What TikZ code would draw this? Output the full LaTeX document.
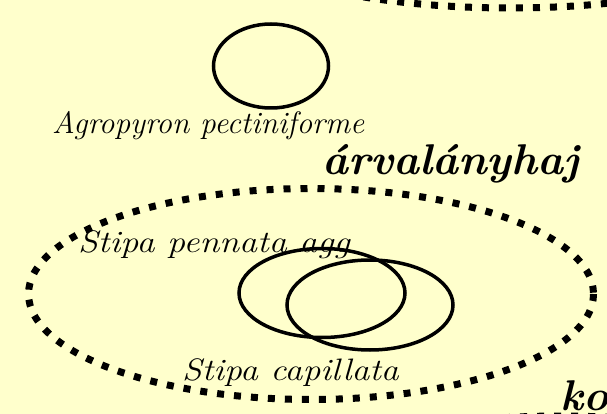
\documentclass[tikz,border=0pt]{standalone}
\usetikzlibrary{shapes.geometric}
\definecolor{bgyellow}{HTML}{FFFFCC}
\tikzset{
  dotring/.style={draw=black, line width=7pt, dash pattern=on 7pt off 10pt},
  ring/.style={draw=black, line width=3.5pt},
  lbl/.style={anchor=base west, inner sep=0pt, font=\itshape\fontsize{31}{31}\selectfont},
  blbl/.style={anchor=base west, inner sep=0pt, font=\bfseries\itshape\fontsize{43}{43}\selectfont},
}
\begin{document}
\begin{tikzpicture}[x=1pt,y=-1pt]
\useasboundingbox (0,0) rectangle (607,414);
\fill[bgyellow] (0,0) rectangle (607,414);
\clip (0,0) rectangle (607,414);
% large dotted groups
\draw[dotring] (510,-92) ellipse [x radius=320, y radius=100];
\draw[dotring] (311,294) ellipse [x radius=282.5, y radius=105.5];
\draw[dotring] (560,520) ellipse [x radius=300, y radius=104];
% species ellipses
\node[ellipse, ring, minimum width=115pt, minimum height=84pt, inner sep=0pt] (agro) at (271,66) {};
\node[ellipse, ring, minimum width=166pt, minimum height=89pt, inner sep=0pt] (penn) at (322,293) {};
\node[ellipse, ring, minimum width=166pt, minimum height=90pt, inner sep=0pt] (capi) at (370,305) {};
% labels
\node[lbl] (tagro) at (52,134) {\scalebox{1.01}[1]{Agropyron pectiniforme}};
\node[blbl] (tarv) at (322,175) {\scalebox{1.02}[1]{árvalányhaj}};
\node[lbl] (tpenn) at (78,252) {\scalebox{1.16}[1]{Stipa pennata agg}};
\node[lbl] (tcapi) at (182,380) {\scalebox{1.15}[1]{Stipa capillata}};
\node[blbl] (tko) at (560,410) {ko};
\end{tikzpicture}
\end{document}
